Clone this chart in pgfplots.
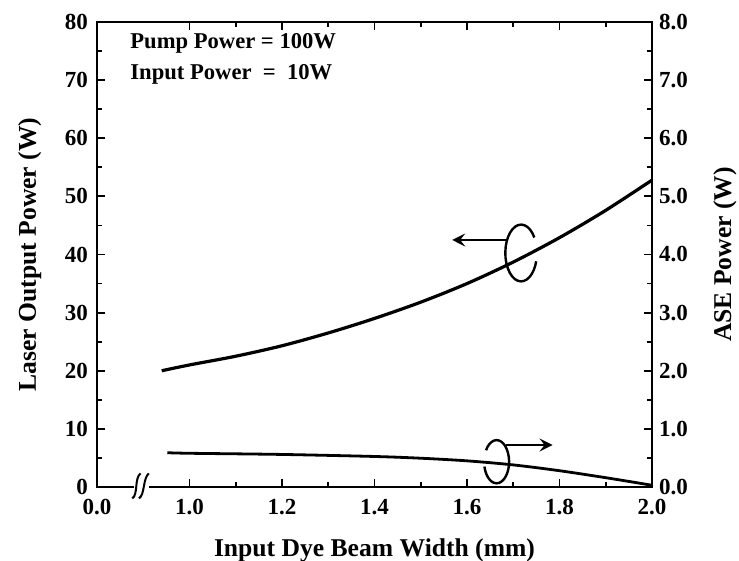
\documentclass[border=0pt]{standalone}
\usepackage{fontspec}
\setmainfont{Liberation Serif}
\usepackage{pgfplots}
\pgfplotsset{compat=1.18}
\usetikzlibrary{arrows.meta}
\begin{document}
\begin{tikzpicture}
\pgfplotsset{
  common/.style={
    width=277.5pt, height=232.5pt, scale only axis,
    xmin=0.8, xmax=2.0,
    axis line style={line width=1.1pt},
    tick style={line width=0.9pt, black},
    tick align=inside,
    major tick length=4pt, minor tick length=2.5pt,
    tick label style={font=\bfseries\fontsize{11.5}{13}\selectfont},
    /pgf/number format/assume math mode=true,
    label style={font=\bfseries\fontsize{12.8}{15}\selectfont},
  }
}
\begin{axis}[common, at={(0,0)}, anchor=south west,
  ymin=0, ymax=80,
  ytick={0,10,...,80}, minor ytick={5,15,...,75},
  ytick pos=left,
  xtick={0.8,1.0,1.2,1.4,1.6,1.8,2.0},
  xticklabels={0.0,1.0,1.2,1.4,1.6,1.8,2.0},
  minor xtick={1.1,1.3,1.5,1.7,1.9},
  xtick pos=both, xticklabel pos=lower,
  xticklabel style={yshift=-2.5pt},
  yticklabel style={xshift=-1pt},
  xlabel={Input Dye Beam Width (mm)},
  ylabel={Laser Output Power (W)},
  xlabel style={at={(axis description cs:0.5,-0.1355)}, anchor=center},
  ylabel style={at={(axis description cs:-0.121,0.5)}, anchor=center},
  clip=false,
]
\addplot[black, line width=1.6pt, smooth] coordinates {
  (0.94,20.0) (1.0,21.0) (1.1,22.5) (1.2,24.3) (1.3,26.5) (1.4,29.0)
  (1.5,31.8) (1.6,35.0) (1.7,38.7) (1.8,42.9) (1.9,47.6) (2.0,52.8)
};
% text
\node[anchor=base west, font=\bfseries\fontsize{11.3}{13}\selectfont, inner sep=0pt]
  at (rel axis cs:0.0595,0.944) {Pump Power = 100W};
\node[anchor=base west, font=\bfseries\fontsize{11.3}{13}\selectfont, inner sep=0pt]
  at (rel axis cs:0.0595,0.877) {Input Power \ = \ 10W};
% upper annotation
\draw[line width=1.2pt] ([shift={(33:7.9pt and 14.2pt)}]axis cs:1.717,40.26)
  arc[start angle=33, end angle=343, x radius=7.9pt, y radius=14.2pt];
\draw[line width=1.1pt, -{Stealth[length=6.5pt,width=6.5pt,inset=2.5pt]}] (axis cs:1.684,42.5) -- (axis cs:1.568,42.5);
% lower annotation
\draw[line width=1.2pt] ([shift={(193:6.25pt and 10.8pt)}]axis cs:1.664,4.35)
  arc[start angle=193, end angle=508, x radius=6.25pt, y radius=10.8pt];
\draw[line width=1.1pt, -{Stealth[length=6.5pt,width=6.5pt,inset=2.5pt]}] (axis cs:1.685,7.23) -- (axis cs:1.785,7.23);
% axis break
\coordinate (b) at (axis cs:0.8935,0);
\fill[white] ([shift={(-3pt,-1.2pt)}]b) rectangle ([shift={(4.5pt,1.2pt)}]b);
\draw[line width=1.0pt] ([shift={(-4pt,-5.7pt)}]b) .. controls ([shift={(-1pt,-4pt)}]b) and ([shift={(-3pt,4.5pt)}]b) .. ([shift={(0.15pt,6.8pt)}]b);
\draw[line width=1.0pt] ([shift={(-0.65pt,-5.7pt)}]b) .. controls ([shift={(2.35pt,-4pt)}]b) and ([shift={(1.3pt,4.5pt)}]b) .. ([shift={(4.3pt,6.8pt)}]b);
\end{axis}
\begin{axis}[common, at={(0,0)}, anchor=south west,
  axis x line=none, axis y line*=right,
  ymin=0, ymax=8,
  ytick={0,1,...,8}, minor ytick={0.5,1.5,...,7.5},
  yticklabel style={/pgf/number format/.cd, fixed, fixed zerofill, precision=1},
  ylabel={ASE Power (W)},
  ylabel style={at={(axis description cs:1.1315,0.5)}, anchor=center, rotate=0},
]
\addplot[black, line width=1.4pt, smooth] coordinates {
  (0.952,0.59) (1.0,0.58) (1.2,0.56) (1.4,0.525) (1.5,0.495) (1.6,0.45)
  (1.7,0.38) (1.8,0.28) (1.9,0.16) (2.0,0.03)
};
\end{axis}
\pgfresetboundingbox
\path (-48.5pt,-37pt) rectangle (321pt,243.5pt);
\end{tikzpicture}
\end{document}
